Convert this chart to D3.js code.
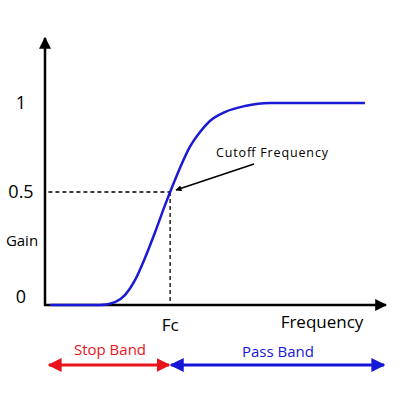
<!DOCTYPE html>
<html><head><meta charset="utf-8">
<script src="https://cdn.jsdelivr.net/npm/d3@7"></script>
<style>body{margin:0;background:#fff}</style>
</head><body>
<svg id="chart" width="400" height="400"></svg>
<script>
// Datos
const freq = [0.015, 0.162, 0.206, 0.235, 0.265, 0.294, 0.324, 0.353, 0.368, 0.397, 0.426, 0.456, 0.485, 0.529, 0.588, 0.662, 0.941];
const gain = [0, 0, 0.013, 0.044, 0.111, 0.208, 0.323, 0.442, 0.5, 0.635, 0.753, 0.837, 0.899, 0.949, 0.983, 1, 1];
const gainTicks = [0, 0.5, 1];
const gainLabels = ["0", "0.5", "1"];
const fc = 0.368;
const fcGain = 0.5;

const svg = d3.select("#chart");
const font = "'Open Sans', 'Liberation Sans', sans-serif";

const x = d3.scaleLinear().domain([0, 1]).range([45, 385]);
const y = d3.scaleLinear().domain([0, 0.5, 1]).range([305, 192, 103]);

const defs = svg.append("defs");
function marker(id, color) {
    defs.append("marker").attr("id", id).attr("viewBox", "0 0 10 10")
        .attr("refX", 9).attr("refY", 5).attr("markerWidth", 6).attr("markerHeight", 6)
        .attr("markerUnits", "userSpaceOnUse").attr("orient", "auto-start-reverse")
        .append("path").attr("d", "M0,0 L10,5 L0,10 z").attr("fill", color);
}
defs.append("marker").attr("id", "axis").attr("viewBox", "0 0 10 10")
    .attr("refX", 9).attr("refY", 5).attr("markerWidth", 12).attr("markerHeight", 12)
    .attr("markerUnits", "userSpaceOnUse").attr("orient", "auto")
    .append("path").attr("d", "M0,0 L10,5 L0,10 z").attr("fill", "#000");
marker("blk", "#000");
defs.append("marker").attr("id", "red").attr("viewBox", "0 0 10 10")
    .attr("refX", 9).attr("refY", 5).attr("markerWidth", 14).attr("markerHeight", 14)
    .attr("markerUnits", "userSpaceOnUse").attr("orient", "auto-start-reverse")
    .append("path").attr("d", "M0,0 L10,5 L0,10 z").attr("fill", "#e8141c");
defs.append("marker").attr("id", "blue").attr("viewBox", "0 0 10 10")
    .attr("refX", 9).attr("refY", 5).attr("markerWidth", 14).attr("markerHeight", 14)
    .attr("markerUnits", "userSpaceOnUse").attr("orient", "auto-start-reverse")
    .append("path").attr("d", "M0,0 L10,5 L0,10 z").attr("fill", "#1616d8");

// Ejes
svg.append("line").attr("x1", 45).attr("y1", 306).attr("x2", 45).attr("y2", 38)
    .attr("stroke", "#000").attr("stroke-width", 2.5).attr("marker-end", "url(#axis)");
svg.append("line").attr("x1", 44).attr("y1", 305).attr("x2", 386).attr("y2", 305)
    .attr("stroke", "#000").attr("stroke-width", 2.5).attr("marker-end", "url(#axis)");

// Etiquetas del eje Y
svg.selectAll(".tick").data(gainTicks).enter().append("text")
    .attr("x", 21).attr("y", d => d === 0 ? y(d) - 2 : y(d) + 6)
    .attr("text-anchor", "middle").attr("font-family", font).attr("font-size", 18)
    .text((d, i) => gainLabels[i]);
svg.append("text").attr("x", 22).attr("y", 246).attr("text-anchor", "middle")
    .attr("font-family", font).attr("font-size", 15).text("Gain");

// Líneas discontinuas
svg.append("line").attr("x1", x(0.01)).attr("x2", x(fc)).attr("y1", y(fcGain)).attr("y2", y(fcGain))
    .attr("stroke", "#000").attr("stroke-width", 1.3).attr("stroke-dasharray", "4,3");
svg.append("line").attr("x1", x(fc)).attr("x2", x(fc)).attr("y1", y(fcGain)).attr("y2", 305)
    .attr("stroke", "#000").attr("stroke-width", 1.3).attr("stroke-dasharray", "4,3");

// Curva
const line = d3.line().x(d => x(d[0])).y(d => y(d[1])).curve(d3.curveMonotoneX);
svg.append("path").datum(d3.zip(freq, gain)).attr("d", line)
    .attr("fill", "none").attr("stroke", "#1a1ad6").attr("stroke-width", 2.5);

// Anotación
svg.append("line").attr("x1", 254).attr("y1", 164).attr("x2", 176).attr("y2", 190)
    .attr("stroke", "#000").attr("stroke-width", 1.5).attr("marker-end", "url(#blk)");
svg.append("text").attr("x", 272).attr("y", 157).attr("text-anchor", "middle")
    .attr("font-family", font).attr("font-size", 12.5).attr("textLength", 112).text("Cutoff Frequency");

svg.append("text").attr("x", x(fc)).attr("y", 331).attr("text-anchor", "middle")
    .attr("font-family", font).attr("font-size", 17).text("Fc");
svg.append("text").attr("x", 322).attr("y", 328).attr("text-anchor", "middle")
    .attr("font-family", font).attr("font-size", 17).text("Frequency");

// Bandas
svg.append("line").attr("x1", 49).attr("x2", x(fc) - 1).attr("y1", 365).attr("y2", 365)
    .attr("stroke", "#e8141c").attr("stroke-width", 3)
    .attr("marker-start", "url(#red)").attr("marker-end", "url(#red)");
svg.append("line").attr("x1", x(fc) + 1).attr("x2", 384).attr("y1", 365).attr("y2", 365)
    .attr("stroke", "#1616d8").attr("stroke-width", 3)
    .attr("marker-start", "url(#blue)").attr("marker-end", "url(#blue)");
svg.append("text").attr("x", 110).attr("y", 355).attr("text-anchor", "middle")
    .attr("font-family", font).attr("font-size", 15).attr("fill", "#e8141c").text("Stop Band");
svg.append("text").attr("x", 278).attr("y", 357).attr("text-anchor", "middle")
    .attr("font-family", font).attr("font-size", 15).attr("fill", "#1616d8").text("Pass Band");
</script>
</body></html>
